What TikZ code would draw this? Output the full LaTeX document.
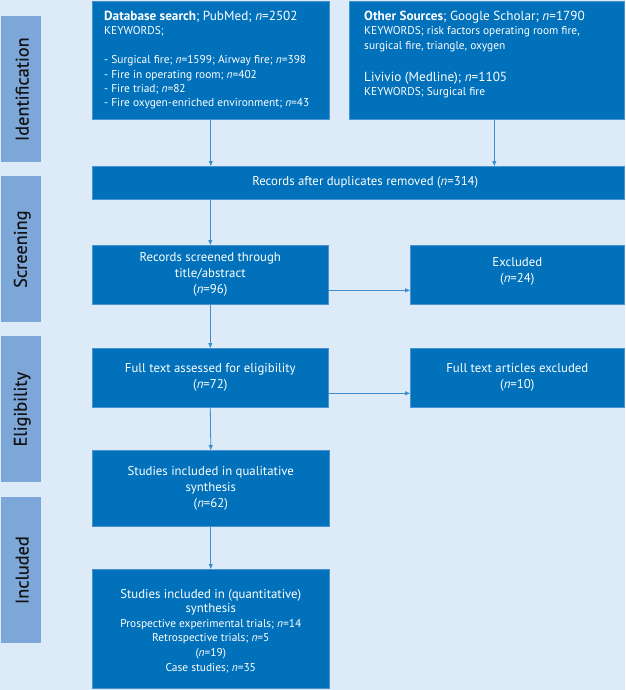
\documentclass[tikz,border=0pt]{standalone}
\usepackage{fontspec}
\setmainfont{PT Sans}
\newfontfamily\sidefont[FakeBold=0.4]{PT Sans}
\usetikzlibrary{arrows.meta}
\definecolor{bg}{HTML}{DDEBF8}
\definecolor{boxblue}{HTML}{0071BA}
\definecolor{boxborder}{HTML}{4A93D1}
\definecolor{sideblue}{HTML}{7DA6D9}
\definecolor{arrowblue}{HTML}{3B8FD0}
\definecolor{sidetextc}{HTML}{141414}
\tikzset{
  box/.style={draw=boxborder, line width=0.6pt, fill=boxblue, inner sep=0pt, anchor=north west},
  sidebar/.style={fill=sideblue, draw=none, inner sep=0pt, anchor=north west, minimum width=40pt, minimum height=146pt},
  sidetext/.style={rotate=90, text=sidetextc, font=\sidefont\fontsize{18.3}{20}\selectfont},
  txt/.style={text=white, inner sep=0pt, font=\fontsize{12.8}{16}\selectfont},
  smalltxt/.style={text=white, inner sep=0pt, font=\fontsize{11.4}{14.3}\selectfont},
  arr/.style={draw=arrowblue, line width=0.8pt, -{Triangle[length=5pt,width=4pt]}}
}
\newcommand{\nn}{\textit{n}}
\begin{document}
\begin{tikzpicture}[x=1pt,y=-1pt]
\fill[bg] (0,0) rectangle (625,690);
\useasboundingbox (0,0) rectangle (625,690);

% side bars
\node[sidebar] (s1) at (1,16) {};
\node[sidebar] (s2) at (1,176) {};
\node[sidebar] (s3) at (1,336) {};
\node[sidebar] (s4) at (1,497) {};
\node[sidetext] at ([xshift=1pt]s1.center) {Identification};
\node[sidetext] at ([xshift=1pt]s2.center) {Screening};
\node[sidetext] at ([xshift=1pt]s3.center) {Eligibility};
\node[sidetext] at ([xshift=1pt]s4.center) {Included};

% boxes
\node[box, minimum width=237pt, minimum height=118pt] (db) at (92,1) {};
\node[box, minimum width=275pt, minimum height=118pt] (oth) at (349,1) {};
\node[box, minimum width=532pt, minimum height=33pt] (rec) at (92,166) {};
\node[box, minimum width=236pt, minimum height=59pt] (scr) at (92,245) {};
\node[box, minimum width=214pt, minimum height=59pt] (exc) at (410,245) {};
\node[box, minimum width=236pt, minimum height=59pt] (ft) at (92,348) {};
\node[box, minimum width=214pt, minimum height=59pt] (fte) at (410,348) {};
\node[box, minimum width=237pt, minimum height=76pt] (qual) at (92,450) {};
\node[box, minimum width=237pt, minimum height=119pt] (quant) at (92,569) {};

% texts
\node[smalltxt, anchor=north west, align=left] (dbt) at ([xshift=12pt,yshift=-10pt]db.north west)
  {{\fontsize{13.2}{14.3}\selectfont\textbf{Database search}; PubMed; \nn=2502}\\
   KEYWORDS;\\[14.6pt]
   - Surgical fire; \nn=1599; Airway fire; \nn=398\\
   - Fire in operating room; \nn=402\\
   - Fire triad; \nn=82\\
   - Fire oxygen-enriched environment; \nn=43};
\node[smalltxt, anchor=north west, align=left] (otht) at ([xshift=15pt,yshift=-10pt]oth.north west)
  {{\fontsize{13.2}{14.3}\selectfont\textbf{Other Sources}; Google Scholar; \nn=1790}\\
   KEYWORDS; risk factors operating room fire,\\
   surgical fire, triangle, oxygen\\[18pt]
   {\fontsize{13.2}{14.3}\selectfont Livivio (Medline); \nn=1105}\\
   KEYWORDS; Surgical fire};
\node[txt] (rect) at ([xshift=7pt]rec.center) {Records after duplicates removed (\nn=314)};
\node[txt, align=center] (scrt) at (scr.center) {Records screened through\\title/abstract\\(\nn=96)};
\node[txt, align=center] (exct) at ([yshift=3pt]exc.center) {Excluded\\(\nn=24)};
\node[txt, align=center] (ftt) at (ft.center) {Full text assessed for eligibility\\(\nn=72)};
\node[txt, align=center] (ftet) at (fte.center) {Full text articles excluded\\(\nn=10)};
\node[txt, align=center] (qualt) at (qual.center) {Studies included in qualitative\\synthesis\\(\nn=62)};
\node[txt, align=center, font=\fontsize{11.4}{14.6}\selectfont] (quantt) at ([yshift=-2pt]quant.center)
  {{\fontsize{12.8}{14.6}\selectfont Studies included in (quantitative)}\\
   {\fontsize{12.8}{14.6}\selectfont synthesis}\\
   Prospective experimental trials; \nn=14\\
   Retrospective trials; \nn=5\\
   (\nn=19)\\
   Case studies; \nn=35};

% arrows
\draw[arr] (db.south) -- (db.south |- rec.north);
\draw[arr] ([xshift=7.5pt]oth.south) -- ([xshift=7.5pt]oth.south |- rec.north);
\draw[arr] (rec.south -| scr.north) -- (scr.north);
\draw[arr] (scr.south) -- (ft.north);
\draw[arr] (ft.south) -- (qual.north);
\draw[arr] (qual.south) -- (quant.north);
\draw[arr] ([yshift=-15.5pt]scr.east) -- ([yshift=-15.5pt]scr.east -| exc.west);
\draw[arr] ([yshift=-15.5pt]ft.east) -- ([yshift=-15.5pt]ft.east -| fte.west);
\end{tikzpicture}
\end{document}
